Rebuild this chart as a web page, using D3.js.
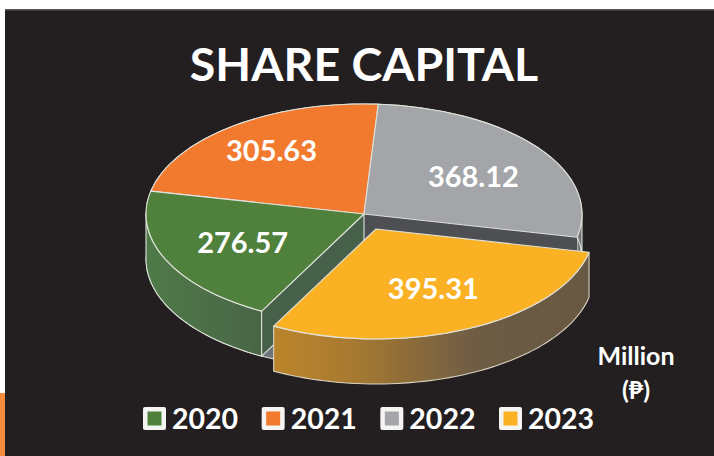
<!DOCTYPE html>
<html>
<head>
<meta charset="utf-8">
<style>
  html, body { margin: 0; padding: 0; background: #fff; }
  svg { display: block; }
  text { font-family: Lato, "Open Sans", "DejaVu Sans", sans-serif; font-weight: 700; fill: #fff; }
</style>
</head>
<body>
<svg id="chart" width="714" height="456"></svg>
<script src="https://cdn.jsdelivr.net/npm/d3@7"></script>
<script>
const years = ["2020", "2021", "2022", "2023"];
const values = [276.57, 305.63, 368.12, 395.31];
const colors = ["#4f803c", "#f27a2f", "#a3a5a9", "#fbb124"];
const titleText = "SHARE CAPITAL";
const unitLines = ["Million", "(₱)"];

const width = 714, height = 456;
const cx = 364, cy = 214, rx = 218, ry = 110, depth = 45;
const tilt = ry / rx;
const rimColor = "#dfe2da";

const svg = d3.select("#chart");

// page edges and dark panel
svg.append("rect").attr("x", 0).attr("y", 393).attr("width", 5).attr("height", 63).attr("fill", "#f58b3c");
svg.append("rect").attr("x", 5).attr("y", 9).attr("width", width - 5).attr("height", height - 9).attr("fill", "#231f20");
svg.append("rect").attr("x", 5).attr("y", 9).attr("width", width - 5).attr("height", 1.5).attr("fill", "#5a585a");

const defs = svg.append("defs");
function wallGradient(id, x1, x2, stops) {
    const g = defs.append("linearGradient").attr("id", id)
        .attr("gradientUnits", "userSpaceOnUse")
        .attr("x1", x1).attr("x2", x2).attr("y1", 0).attr("y2", 0);
    stops.forEach(s => g.append("stop").attr("offset", s[0]).attr("stop-color", s[1]));
}
wallGradient("greenWall", 145, 262, [[0, "#4f7a48"], [1, "#4a6546"]]);
wallGradient("goldWall", 275, 590, [[0, "#b9832c"], [0.2, "#a87a30"], [0.6, "#6e5c44"], [1, "#675843"]]);

const pie = d3.pie().sort(null)
    .startAngle(208 * Math.PI / 180)
    .endAngle((208 + 360) * Math.PI / 180);
const slices = pie(values).map((d, i) => ({ ...d, year: years[i], color: colors[i] }));
const [green, orange, gray, gold] = slices;

// the 2023 slice is pulled out of the pie
const explode = { 2023: [12, 15] };
const shift = d => explode[d.year] || [0, 0];

const project = (a, r = 1) => [cx + rx * r * Math.sin(a), cy - ry * r * Math.cos(a)];
const line = d3.line();

// curved outer wall between two angles
function outerWall(a0, a1) {
    const n = 60;
    const top = d3.range(n + 1).map(i => project(a0 + (a1 - a0) * i / n));
    const bottom = top.map(p => [p[0], p[1] + depth]).reverse();
    return line(top.concat(bottom)) + "Z";
}
// flat wall under a radial edge
function radialWall(a) {
    const c = project(a, 0), e = project(a);
    return line([c, e, [e[0], e[1] + depth], [c[0], c[1] + depth]]) + "Z";
}

const walls = svg.append("g").attr("stroke", rimColor).attr("stroke-width", 1.1).attr("stroke-linejoin", "round");
walls.append("path").attr("d", outerWall(Math.PI / 2, gray.endAngle)).attr("fill", "#70747a");
walls.append("path").attr("d", radialWall(gray.endAngle)).attr("fill", "#4e4f52").attr("stroke", "none");
walls.append("path").attr("d", outerWall(green.startAngle, 1.5 * Math.PI)).attr("fill", "url(#greenWall)");
walls.append("path").attr("d", radialWall(green.startAngle)).attr("fill", "#46604a");

const arc = d3.arc().innerRadius(0).outerRadius(rx);

function drawTop(d) {
    const s = shift(d);
    svg.append("path")
        .attr("transform", `translate(${cx + s[0]},${cy + s[1]}) scale(1,${tilt})`)
        .attr("d", arc(d))
        .attr("fill", d.color)
        .attr("stroke", rimColor)
        .attr("stroke-width", 1.1)
        .attr("stroke-linejoin", "round")
        .attr("vector-effect", "non-scaling-stroke");
}
[orange, gray, green].forEach(drawTop);

// pulled out slice goes on top of everything
const goldWalls = svg.append("g")
    .attr("transform", `translate(${shift(gold)})`)
    .attr("stroke", "#d8d3c0").attr("stroke-width", 1.1).attr("stroke-linejoin", "round");
goldWalls.append("path").attr("d", outerWall(gold.startAngle, gold.endAngle)).attr("fill", "url(#goldWall)");
drawTop(gold);

// value labels, placed by hand like the original
const labelNudge = { 2020: [13, -4], 2021: [-3, -5], 2022: [-9, 7], 2023: [-5, -9] };
svg.append("g").selectAll("text")
    .data(slices)
    .join("text")
    .attr("x", d => project((d.startAngle + d.endAngle) / 2, 0.68)[0] + shift(d)[0] + labelNudge[d.year][0])
    .attr("y", d => project((d.startAngle + d.endAngle) / 2, 0.68)[1] + shift(d)[1] + labelNudge[d.year][1])
    .attr("text-anchor", "middle")
    .attr("dominant-baseline", "central")
    .attr("font-size", 29)
    .text(d => d.data.toFixed(2));

svg.append("text")
    .attr("x", 364).attr("y", 81)
    .attr("text-anchor", "middle")
    .attr("font-size", 46.5)
    .text(titleText);

svg.append("g").selectAll("text")
    .data(unitLines)
    .join("text")
    .attr("x", 636)
    .attr("y", (d, i) => 365 + i * 34)
    .attr("text-anchor", "middle")
    .attr("font-size", 25)
    .text(d => d);

// legend
const legendX = d3.scalePoint().domain(years).range([143, 499]);
const legend = svg.append("g").selectAll("g")
    .data(years)
    .join("g")
    .attr("transform", d => `translate(${legendX(d)},407)`);
legend.append("rect")
    .attr("width", 23).attr("height", 23).attr("rx", 2)
    .attr("fill", "#f4f4f2");
legend.append("rect")
    .attr("x", 4.5).attr("y", 4.5).attr("width", 14).attr("height", 14)
    .attr("fill", (d, i) => colors[i]);
legend.append("text")
    .attr("x", 29).attr("y", 22)
    .attr("font-size", 28.5)
    .text(d => d);
</script>
</body>
</html>
